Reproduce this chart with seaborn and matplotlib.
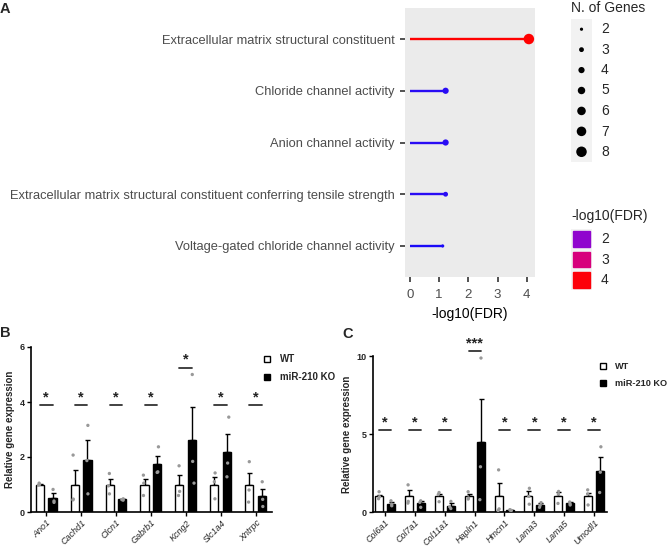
import numpy as np
import pandas as pd
import matplotlib
matplotlib.use('Agg')
import matplotlib.pyplot as plt
import seaborn as sns
from matplotlib.colors import LinearSegmentedColormap, Normalize
from matplotlib.lines import Line2D

# ---- panel A data (GO enrichment) ----
go_terms = ['Extracellular matrix structural constituent',
            'Chloride channel activity',
            'Anion channel activity',
            'Extracellular matrix structural constituent conferring tensile strength',
            'Voltage-gated chloride channel activity']
go_fdr = [4.07, 1.22, 1.22, 1.22, 1.12]
go_genes = [8, 4, 4, 3, 2]
size_levels = [2, 3, 4, 5, 6, 7, 8]
fdr_levels = [2, 3, 4]
fdr_ticks = [0, 1, 2, 3, 4]

# ---- panel B data ----
genes_b = ['Ano1', 'Cachd1', 'Clcn1', 'Gabrb1', 'Kcng2', 'Slc1a4', 'Xntrpc']
wt_mean_b = [1.0, 1.0, 1.0, 1.0, 1.0, 1.0, 1.0]
wt_sem_b = [0.03, 0.53, 0.21, 0.2, 0.33, 0.26, 0.43]
ko_mean_b = [0.52, 1.9, 0.46, 1.75, 2.62, 2.17, 0.59]
ko_sem_b = [0.16, 0.73, 0.03, 0.3, 1.19, 0.67, 0.26]
wt_pts_b = [[1.05, 1.0, 0.98], [2.07, 0.47, 0.44], [1.4, 0.95, 0.66],
            [1.34, 1.05, 0.6], [1.68, 0.75, 0.6], [1.42, 1.1, 0.48],
            [1.83, 0.8, 0.36]]
ko_pts_b = [[0.82, 0.4, 0.35], [3.15, 1.87, 0.66], [0.48, 0.45, 0.43],
            [2.37, 1.46, 1.44], [5.0, 1.84, 1.05], [3.45, 1.78, 1.28],
            [1.1, 0.46, 0.2]]
sig_y_b = [3.88, 3.88, 3.88, 3.88, 5.25, 3.88, 3.88]
sig_b = ['*', '*', '*', '*', '*', '*', '*']

# ---- panel C data ----
genes_c = ['Col6a1', 'Col7a1', 'Col11a1', 'Hapln1', 'Hmcn1', 'Lama3', 'Lama5', 'Umodl1']
wt_mean_c = [1.0, 1.0, 1.0, 1.0, 1.0, 1.0, 1.0, 1.0]
wt_sem_c = [0.12, 0.38, 0.17, 0.17, 0.85, 0.32, 0.3, 0.25]
ko_mean_c = [0.53, 0.56, 0.4, 4.5, 0.12, 0.42, 0.55, 2.65]
ko_sem_c = [0.1, 0.16, 0.17, 2.76, 0.02, 0.14, 0.08, 0.85]
wt_pts_c = [[1.3, 0.98, 0.85], [1.74, 0.68, 0.57], [1.25, 1.12, 0.66],
            [1.3, 0.9, 0.83], [2.7, 0.2, 0.1], [1.52, 1.0, 0.5],
            [1.32, 1.15, 0.55], [1.42, 1.15, 0.45]]
ko_pts_c = [[0.72, 0.5, 0.4], [0.72, 0.62, 0.3], [0.68, 0.33, 0.22],
            [9.87, 2.9, 0.79], [0.15, 0.12, 0.1], [0.6, 0.42, 0.3],
            [0.64, 0.53, 0.45], [4.18, 2.55, 1.25]]
sig_y_c = [5.25, 5.25, 5.25, 10.3, 5.25, 5.25, 5.25, 5.25]
sig_c = ['*', '*', '*', '***', '*', '*', '*', '*']

groups = ['WT', 'miR-210 KO']

sns.set_theme(style='white')
plt.rcParams['font.family'] = ['Liberation Sans', 'DejaVu Sans']
narrow = ['Liberation Sans Narrow', 'DejaVu Sans Condensed', 'Liberation Sans', 'DejaVu Sans']

fig = plt.figure(figsize=(6.69, 5.49), dpi=100)
W, H = 669.0, 549.0


def px_axes(x0, y0, x1, y1):
    # axes from pixel box (top-left origin)
    return fig.add_axes([x0 / W, 1 - y1 / H, (x1 - x0) / W, (y1 - y0) / H])


# =================== panel A ===================
cmap = LinearSegmentedColormap.from_list(
    'bluered', ['#1A0AF8', '#6A16E2', '#9A00C8', '#C0009F', '#DC0075', '#F10043', '#FF0000'])
norm = Normalize(min(go_fdr), max(go_fdr))


def dot_area(n):
    # ggplot-like: diameter grows with sqrt(n)
    d_px = 3.2 + (np.sqrt(n) - np.sqrt(2)) / (np.sqrt(8) - np.sqrt(2)) * 7.3
    return (d_px * 0.72) ** 2


size_map = {n: dot_area(n) for n in size_levels}

go_df = pd.DataFrame({'term': go_terms, 'fdr': go_fdr, 'genes': go_genes})
axA = px_axes(405, 8, 535, 277)
axA.set_facecolor('#EBEBEB')
axA.hlines(np.arange(len(go_terms)), 0, go_df['fdr'],
           colors=[cmap(norm(v)) for v in go_fdr], lw=1.7, zorder=2)
sns.scatterplot(data=go_df, x='fdr', y='term', hue='fdr', palette=cmap, hue_norm=norm,
                size='genes', sizes=size_map, edgecolor='none', legend=False,
                ax=axA, zorder=3)
axA.set_xlim(-0.17, 4.28)
axA.set_ylim(4.6, -0.6)
axA.set_xticks(fdr_ticks)
axA.set_xticklabels([str(t) for t in fdr_ticks], family=narrow, fontsize=9.5, color='#4D4D4D')
axA.set_yticks(range(len(go_terms)))
axA.set_yticklabels(go_terms, family=narrow, fontsize=9.3, color='#4D4D4D')
axA.tick_params(axis='y', length=3.5, width=1.2, color='#333333', pad=4, left=True)
axA.tick_params(axis='x', length=3.5, width=1.2, color='#333333', pad=5.5, bottom=True)
axA.set_xlabel('-log10(FDR)', family=narrow, fontsize=10, color='black', labelpad=4)
axA.set_ylabel('')
for s in axA.spines.values():
    s.set_visible(False)

# size legend
fig.text(571 / W, 1 - 8 / H, 'N. of Genes', family=narrow, fontsize=10, va='center', ha='left')
axS = px_axes(571, 19, 592, 162)
axS.set_facecolor('#F2F2F2')
axS.scatter([0] * len(size_levels), range(len(size_levels)),
            s=[size_map[n] for n in size_levels], color='black', edgecolor='none')
axS.set_xlim(-1, 1)
axS.set_ylim(len(size_levels) - 0.5, -0.5)
axS.set_xticks([])
axS.set_yticks([])
for s in axS.spines.values():
    s.set_visible(False)
for i, n in enumerate(size_levels):
    fig.text(601 / W, 1 - (29 + i * 20.5) / H, str(n), family=narrow, fontsize=10, va='center')

# colour legend
fig.text(571 / W, 1 - 216 / H, '-log10(FDR)', family=narrow, fontsize=10, va='center', ha='left')
axL = px_axes(571, 229, 592, 290)
axL.set_facecolor('#F2F2F2')
for i, v in enumerate(fdr_levels):
    axL.add_patch(plt.Rectangle((0.08, i + 0.12), 0.84, 0.76, color=cmap(norm(v))))
    fig.text(601 / W, 1 - (239 + i * 20.5) / H, str(v), family=narrow, fontsize=10, va='center')
axL.set_xlim(0, 1)
axL.set_ylim(len(fdr_levels), 0)
axL.set_xticks([])
axL.set_yticks([])
for s in axL.spines.values():
    s.set_visible(False)


# =================== panels B & C ===================
def bar_panel(ax, genes, wt_mean, wt_sem, ko_mean, ko_sem, wt_pts, ko_pts,
              sig_y, sig, width, gap, ymax, yticks, xlim, leg_anchor, leg_size):
    summ = pd.DataFrame({'gene': genes * 2,
                         'group': [groups[0]] * len(genes) + [groups[1]] * len(genes),
                         'mean': wt_mean + ko_mean})
    sns.barplot(data=summ, x='gene', y='mean', hue='group', hue_order=groups,
                palette={groups[0]: 'white', groups[1]: 'black'}, edgecolor='black',
                linewidth=1.0, width=width, gap=gap, errorbar=None, legend=False,
                ax=ax, zorder=2)
    for cont, sems in zip(ax.containers, [wt_sem, ko_sem]):
        xs = [b.get_x() + b.get_width() / 2 for b in cont]
        hs = [b.get_height() for b in cont]
        ax.errorbar(xs, hs, yerr=[np.zeros(len(sems)), sems], fmt='none',
                    ecolor='black', elinewidth=1.0, capsize=1.8, capthick=1.0, zorder=1)
    pts = pd.DataFrame({
        'gene': [g for g, p in zip(genes, wt_pts) for _ in p] + [g for g, p in zip(genes, ko_pts) for _ in p],
        'group': [groups[0]] * sum(len(p) for p in wt_pts) + [groups[1]] * sum(len(p) for p in ko_pts),
        'value': [v for p in wt_pts for v in p] + [v for p in ko_pts for v in p]})
    np.random.seed(3)
    sns.stripplot(data=pts, x='gene', y='value', hue='group', hue_order=groups,
                  palette={groups[0]: '#999999', groups[1]: '#999999'}, dodge=True,
                  jitter=0.07, size=2.4, linewidth=0, legend=False, ax=ax, zorder=4)
    off = width / 4
    for i, (y, s) in enumerate(zip(sig_y, sig)):
        ax.plot([i - off, i + off], [y, y], color='#333333', lw=1.3, clip_on=False)
        ax.text(i, y + ymax * 0.05, s, ha='center', va='center', fontsize=10.5,
                fontweight='bold', color='#222222', clip_on=False)
    ax.set_ylim(0, ymax)
    ax.set_xlim(*xlim)
    ax.set_yticks(yticks)
    ax.set_yticklabels([str(t) for t in yticks], fontsize=6.5, fontweight='bold')
    ax.set_xticks(range(len(genes)))
    ax.set_xticklabels(genes, rotation=45, ha='right', rotation_mode='anchor',
                       fontsize=6.5, fontstyle='italic')
    ax.tick_params(axis='both', length=3, width=1, color='black', pad=1.5,
                   bottom=True, left=True)
    ax.set_xlabel('')
    ax.set_ylabel('Relative gene expression', fontsize=7, fontweight='bold', labelpad=3)
    sns.despine(ax=ax)
    for s in ['left', 'bottom']:
        ax.spines[s].set_linewidth(1.2)
        ax.spines[s].set_color('black')
    handles = [Line2D([], [], marker='s', ls='', mfc='white', mec='black', ms=4.5, mew=1),
               Line2D([], [], marker='s', ls='', mfc='black', mec='black', ms=4.5, mew=1)]
    ax.legend(handles, groups, loc='upper left', bbox_to_anchor=leg_anchor,
              bbox_transform=fig.transFigure, frameon=False, handlelength=0.8,
              handletextpad=0.9, labelspacing=0.85, borderpad=0, borderaxespad=0,
              prop={'size': leg_size, 'weight': 'bold'})


axB = px_axes(31, 347, 272, 512)
bar_panel(axB, genes_b, wt_mean_b, wt_sem_b, ko_mean_b, ko_sem_b, wt_pts_b, ko_pts_b,
          sig_y_b, sig_b, 0.74, 0.38, 6, [0, 2, 4, 6], (-0.43, 6.46),
          (263 / W, 1 - 354 / H), 7)

axC = px_axes(373, 356, 607, 512)
bar_panel(axC, genes_c, wt_mean_c, wt_sem_c, ko_mean_c, ko_sem_c, wt_pts_c, ko_pts_c,
          sig_y_c, sig_c, 0.8, 0.33, 10, [0, 5, 10], (-0.4, 7.43),
          (599 / W, 1 - 362 / H), 6.6)

# panel letters
for lab, x, y in [('A', 5, 9), ('B', 5, 333), ('C', 348, 334)]:
    fig.text(x / W, 1 - y / H, lab, fontsize=10.5, fontweight='bold', ha='center', va='center')

fig.savefig('out.png', dpi=100)
